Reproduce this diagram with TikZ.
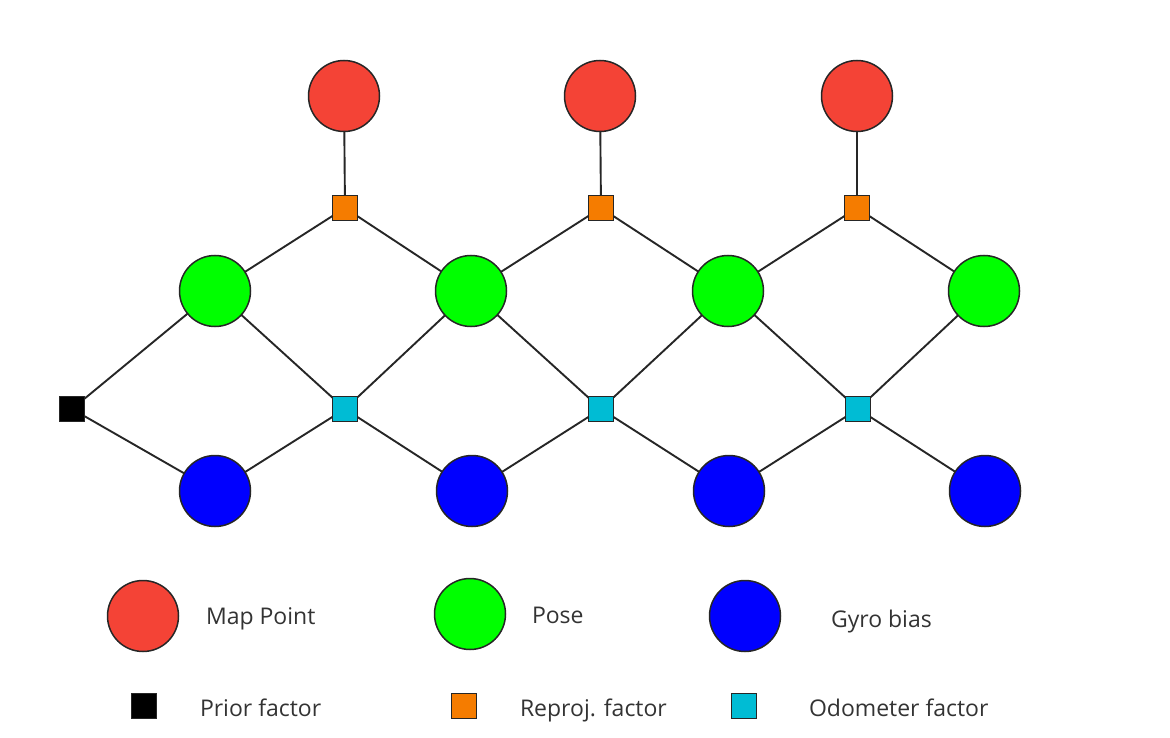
\documentclass[tikz,border=0pt]{standalone}
\usepackage{fontspec}
\setmainfont{Open Sans}
\begin{document}
\begin{tikzpicture}[x=1pt,y=-1pt,
  every node/.style={inner sep=0pt,outer sep=0pt},
  var/.style={circle,draw=black!85,line width=1.5pt,minimum size=71pt},
  mappt/.style={var,fill=mapred},
  pose/.style={var,fill=posegreen},
  bias/.style={var,fill=biasblue},
  fac/.style={rectangle,draw=black!85,line width=1.5pt,minimum size=25pt},
  prior/.style={fac,fill=black},
  reproj/.style={fac,fill=reorange},
  odo/.style={fac,fill=odocyan},
  edge/.style={draw=black!85,line width=1.9pt},
  lbl/.style={anchor=base west,text=black!80,font=\fontsize{23}{28}\selectfont}
]
\definecolor{mapred}{HTML}{F44336}
\definecolor{posegreen}{HTML}{00FF00}
\definecolor{biasblue}{HTML}{0000FF}
\definecolor{reorange}{HTML}{F57C00}
\definecolor{odocyan}{HTML}{00BCD4}
\useasboundingbox (0,0) rectangle (1170,738);
% variables
\node[mappt] (m1) at (344,96) {};
\node[mappt] (m2) at (600,96) {};
\node[mappt] (m3) at (857,96) {};
\node[pose] (p1) at (215,291) {};
\node[pose] (p2) at (471,291) {};
\node[pose] (p3) at (728,291) {};
\node[pose] (p4) at (984,291) {};
\node[bias] (b1) at (215,491) {};
\node[bias] (b2) at (472,491) {};
\node[bias] (b3) at (729,491) {};
\node[bias] (b4) at (985,491) {};
% factors
\node[prior] (f0) at (72,409) {};
\node[reproj] (r1) at (345,208) {};
\node[reproj] (r2) at (601,208) {};
\node[reproj] (r3) at (857,208) {};
\node[odo] (o1) at (345,409) {};
\node[odo] (o2) at (601,409) {};
\node[odo] (o3) at (858,409) {};
% edges
\draw[edge] (f0) -- (p1);
\draw[edge] (f0) -- (b1);
\foreach \i/\j in {1/2,2/3,3/4}{
  \draw[edge] (r\i) -- (m\i);
  \draw[edge] (r\i) -- (p\i);
  \draw[edge] (r\i) -- (p\j);
  \draw[edge] (o\i) -- (p\i);
  \draw[edge] (o\i) -- (p\j);
  \draw[edge] (o\i) -- (b\i);
  \draw[edge] (o\i) -- (b\j);
}
% legend
\node[mappt] (lm) at (143,616) {};
\node[lbl] (lmt) at (206,624) {Map Point};
\node[pose] (lp) at (470,614) {};
\node[lbl] (lpt) at (532,623) {Pose};
\node[bias] (lb) at (745,616) {};
\node[lbl] (lbt) at (831,627) {Gyro bias};
\node[prior] (lf) at (144,706) {};
\node[lbl] (lft) at (200,716) {Prior factor};
\node[reproj] (lr) at (464,706) {};
\node[lbl] (lrt) at (520,716) {Reproj. factor};
\node[odo] (lo) at (744,706) {};
\node[lbl] (lot) at (809,716) {Odometer factor};
\end{tikzpicture}
\end{document}
